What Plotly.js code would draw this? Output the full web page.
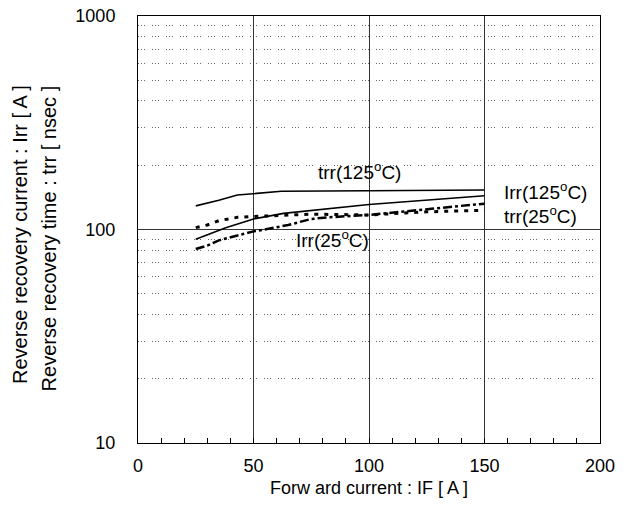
<!DOCTYPE html>
<html>
<head>
<meta charset="utf-8">
<script src="https://cdn.plot.ly/plotly-3.0.1.min.js"></script>
<style>html,body{margin:0;padding:0;background:#fff;}#chart{width:634px;height:510px;}</style>
</head>
<body>
<div id="chart"></div>
<script>
// Forward current IF [A]
const trr125X = [25, 35, 43, 50, 62, 100, 150];
const trr125Y = [129, 137, 145, 147, 151, 152, 153];

const irr125X = [25, 38, 50, 63, 100, 150];
const irr125Y = [90, 102, 112, 119, 131, 144];

const trr25X = [25, 30, 35, 43, 50, 60, 75, 100, 125, 150];
const trr25Y = [102, 105, 110, 114, 115, 116, 118, 117, 121, 123];

const irr25X = [25, 30, 35, 43, 50, 57, 65, 75, 82, 100, 115, 127, 146, 150];
const irr25Y = [81, 84, 89, 94, 98, 101, 105, 112, 114, 117, 121, 125, 131, 132];

const xTickVals = [0, 50, 100, 150, 200];
const yTickVals = [10, 100, 1000];

const labels = ['trr(125<sup>o</sup>C)', 'Irr(125<sup>o</sup>C)', 'trr(25<sup>o</sup>C)', 'Irr(25<sup>o</sup>C)'];
const yTitleLines = ['Reverse recovery current : Irr [ A ]', 'Reverse recovery time : trr [ nsec ]'];
const xTitle = 'Forw ard current : IF [ A ]';

const FONT = 'Liberation Sans, Arial, sans-serif';

const traces = [
  {x: trr125X, y: trr125Y, mode: 'lines', line: {color: '#000', width: 1.6}, name: 'trr125'},
  {x: irr125X, y: irr125Y, mode: 'lines', line: {color: '#000', width: 1.6}, name: 'irr125'},
  {x: trr25X, y: trr25Y, mode: 'lines', line: {color: '#000', width: 3, dash: '4px,6px'}, name: 'trr25'},
  {x: irr25X, y: irr25Y, mode: 'lines', line: {color: '#000', width: 2.5, dash: 'dashdot'}, name: 'irr25'}
];

const layout = {
  width: 634, height: 510,
  margin: {l: 138, r: 34, t: 16, b: 67},
  paper_bgcolor: '#fff', plot_bgcolor: '#fff',
  showlegend: false,
  font: {family: FONT, size: 18, color: '#000'},
  xaxis: {
    range: [0, 200], tickvals: xTickVals, ticktext: xTickVals.map(String),
    showgrid: true, gridcolor: '#333', gridwidth: 1,
    zeroline: false, showline: true, linecolor: '#000', linewidth: 1, mirror: true,
    ticks: 'inside', ticklen: 5, tickcolor: '#000',
    minor: {dtick: 10, tick0: 0, ticks: 'inside', ticklen: 5, tickcolor: '#000', showgrid: false},
    ticklabelstandoff: 6,
    tickfont: {size: 18},
    title: {text: xTitle, font: {size: 18}, standoff: 6}
  },
  yaxis: {
    type: 'log', range: [1, 3], tickvals: yTickVals, ticktext: yTickVals.map(String),
    showgrid: true, gridcolor: '#333', gridwidth: 1,
    zeroline: false, showline: true, linecolor: '#000', linewidth: 1, mirror: true,
    ticks: '',
    minor: {dtick: 'D1', showgrid: true, griddash: '1px,2px,1px,2px,1px,7px', gridcolor: '#666', gridwidth: 1, ticks: ''},
    ticklabelstandoff: 18,
    tickfont: {size: 18}
  },
  annotations: [
    {x: 95.7, y: Math.log10(187), xref: 'x', yref: 'y', text: labels[0], showarrow: false, xanchor: 'center', yanchor: 'middle', font: {size: 19}},
    {x: 157.5, y: Math.log10(151), xref: 'x', yref: 'y', text: labels[1], showarrow: false, xanchor: 'left', yanchor: 'middle', font: {size: 19}},
    {x: 157.5, y: Math.log10(117), xref: 'x', yref: 'y', text: labels[2], showarrow: false, xanchor: 'left', yanchor: 'middle', font: {size: 19}},
    {x: 84, y: Math.log10(90), xref: 'x', yref: 'y', text: labels[3], showarrow: false, xanchor: 'center', yanchor: 'middle', font: {size: 19}},
    {x: -0.2554, y: 0.487, xref: 'paper', yref: 'paper', text: yTitleLines[0], textangle: -90, showarrow: false, xanchor: 'center', yanchor: 'middle', font: {size: 20}},
    {x: -0.1937, y: 0.478, xref: 'paper', yref: 'paper', text: yTitleLines[1], textangle: -90, showarrow: false, xanchor: 'center', yanchor: 'middle', font: {size: 20}}
  ]
};

Plotly.newPlot('chart', traces, layout, {displayModeBar: false, staticPlot: true});
</script>
</body>
</html>
